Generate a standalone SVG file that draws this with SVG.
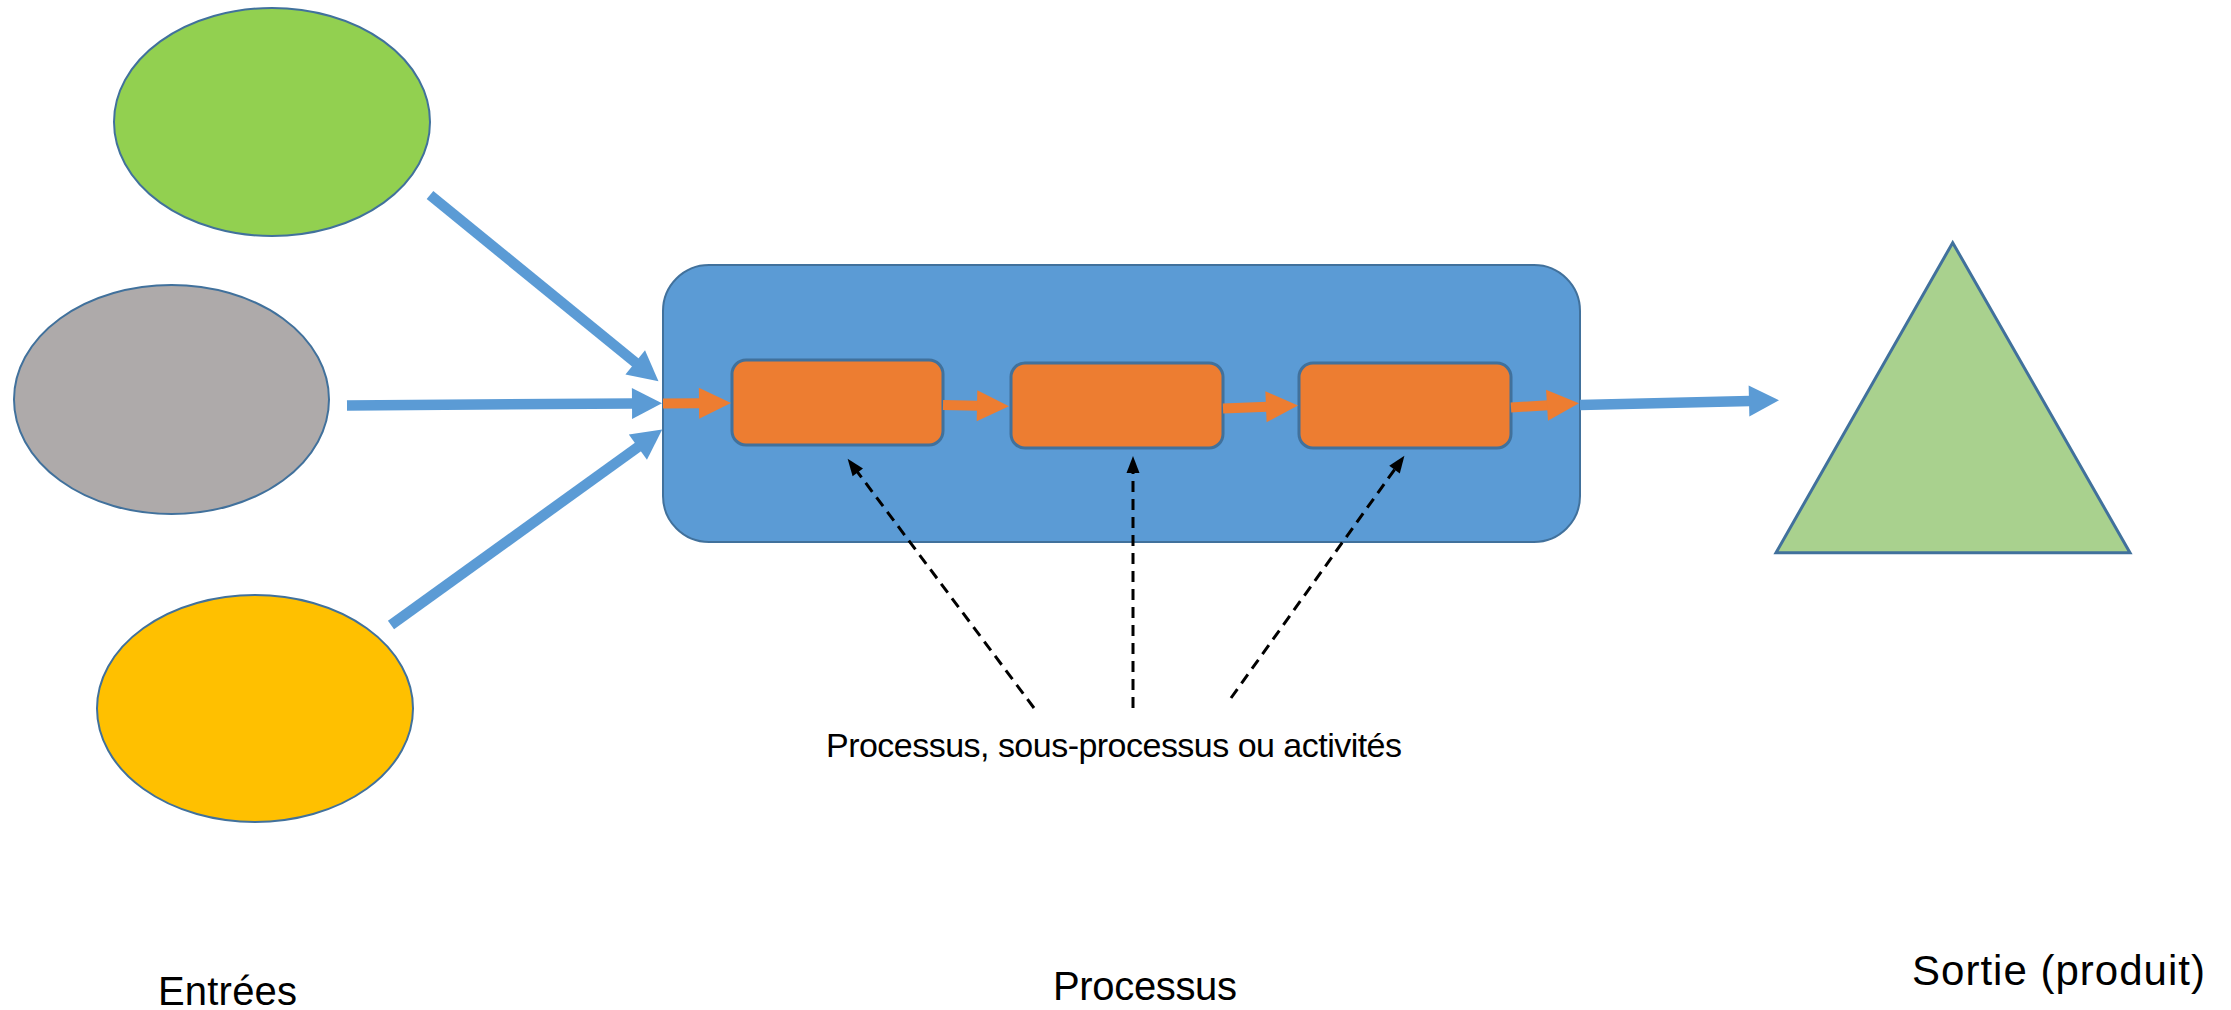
<svg xmlns="http://www.w3.org/2000/svg" width="2231" height="1010" viewBox="0 0 2231 1010">
  <style>
    .ell { stroke: #41719C; stroke-width: 2; }
    .sub { fill: #ED7D31; stroke: #41719C; stroke-width: 3; }
    .blue { stroke: #5B9BD5; stroke-width: 10.5; fill: none; stroke-linecap: butt; }
    .orange { stroke: #ED7D31; stroke-width: 10; fill: none; stroke-linecap: butt; }
    .dash { stroke: #000; stroke-width: 3; fill: none; stroke-dasharray: 11 7; }
    .lbl { font-family: "Liberation Sans", Arial, sans-serif; fill: #000; }
  </style>
  <defs>
    <marker id="hb" markerUnits="userSpaceOnUse" markerWidth="34" markerHeight="34" viewBox="0 -17 34 34" refX="1" refY="0" orient="auto" overflow="visible">
      <path d="M0,-15.5 L30,0 L0,15.5 Z" fill="#5B9BD5"/>
    </marker>
    <marker id="ho" markerUnits="userSpaceOnUse" markerWidth="34" markerHeight="34" viewBox="0 -17 34 34" refX="1" refY="0" orient="auto" overflow="visible">
      <path d="M0,-15.5 L32,0 L0,15.5 Z" fill="#ED7D31"/>
    </marker>
    <marker id="hk" markerUnits="userSpaceOnUse" markerWidth="20" markerHeight="20" viewBox="0 -10 20 20" refX="1" refY="0" orient="auto" overflow="visible">
      <path d="M0,-6.5 L17,0 L0,6.5 Z" fill="#000"/>
    </marker>
  </defs>

  <g id="entree-verte">
    <ellipse class="ell" cx="272" cy="122" rx="158" ry="114" fill="#92D050"/>
  </g>
  <g id="entree-grise">
    <ellipse class="ell" cx="171.5" cy="399.5" rx="157.5" ry="114.5" fill="#AEAAAA"/>
  </g>
  <g id="entree-jaune">
    <ellipse class="ell" cx="255" cy="708.5" rx="158" ry="113.5" fill="#FFC000"/>
  </g>

  <g id="processus">
    <rect x="663" y="265" width="917" height="277" rx="46" ry="46" fill="#5B9BD5" stroke="#41719C" stroke-width="2"/>
  </g>
  <g id="sous-processus-1">
    <rect class="sub" x="732" y="360" width="211" height="85" rx="14" ry="14"/>
  </g>
  <g id="sous-processus-2">
    <rect class="sub" x="1011" y="363" width="212" height="85" rx="14" ry="14"/>
  </g>
  <g id="sous-processus-3">
    <rect class="sub" x="1299" y="363" width="212" height="85" rx="14" ry="14"/>
  </g>

  <g id="sortie">
    <polygon points="1952.7,242.7 2130,552.7 1776,552.7" fill="#A9D18E" stroke="#41719C" stroke-width="3" stroke-linejoin="miter"/>
  </g>

  <g id="connecteurs">
    <line class="blue" x1="430" y1="195" x2="636" y2="363" marker-end="url(#hb)"/>
    <line class="blue" x1="347" y1="405.5" x2="633" y2="403.5" marker-end="url(#hb)"/>
    <line class="blue" x1="391" y1="625" x2="638.7" y2="446.5" marker-end="url(#hb)"/>
    <line class="blue" x1="1580" y1="405" x2="1750" y2="401" marker-end="url(#hb)"/>

    <line class="orange" x1="663" y1="403.5" x2="700" y2="403.2" marker-end="url(#ho)"/>
    <line class="orange" x1="943" y1="405" x2="978" y2="405.7" marker-end="url(#ho)"/>
    <line class="orange" x1="1223" y1="408.5" x2="1267" y2="406.7" marker-end="url(#ho)"/>
    <line class="orange" x1="1511" y1="407.5" x2="1548" y2="405.2" marker-end="url(#ho)"/>

    <line class="dash" x1="1034" y1="708" x2="857.2" y2="471.6" marker-end="url(#hk)"/>
    <line class="dash" x1="1133" y1="708" x2="1133" y2="472" marker-end="url(#hk)"/>
    <line class="dash" x1="1231" y1="698" x2="1395.1" y2="468.8" marker-end="url(#hk)"/>
  </g>

  <g id="textes">
    <text class="lbl" x="826" y="757" font-size="34" textLength="576">Processus, sous-processus ou activités</text>
    <text class="lbl" x="158" y="1005" font-size="40" textLength="139">Entrées</text>
    <text class="lbl" x="1053" y="1000" font-size="40" textLength="184">Processus</text>
    <text class="lbl" x="1912" y="985" font-size="42" textLength="293">Sortie (produit)</text>
  </g>
</svg>
